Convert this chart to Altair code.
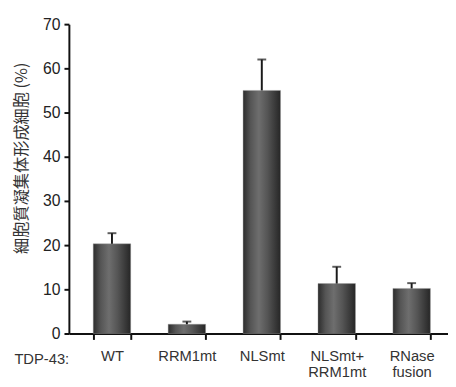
import altair as alt
import pandas as pd

categories = ["WT", "RRM1mt", "NLSmt", "NLSmt+\nRRM1mt", "RNase\nfusion"]
values = [20.3, 2.1, 55.0, 11.3, 10.2]
errors = [2.4, 0.6, 7.0, 3.8, 1.2]
y_ticks = [0, 10, 20, 30, 40, 50, 60, 70]

df = pd.DataFrame({"cat": categories, "val": values, "err": errors})
df["upper"] = df["val"] + df["err"]

x_enc = alt.X(
    "cat:N",
    sort=categories,
    scale=alt.Scale(paddingInner=0.5, paddingOuter=0.28, align=0.58),
    axis=alt.Axis(
        title="TDP-43:",
        titleX=-56,
        titleY=31,
        titleAlign="left",
        titleBaseline="alphabetic",
        titleFont="Liberation Sans",
        titleFontSize=15,
        titleFontWeight="normal",
        titleColor="#333333",
        labelAngle=0,
        labelFont="Liberation Sans",
        labelFontSize=15,
        labelColor="#333333",
        labelExpr="split(datum.label, '\\n')",
        labelLineHeight=17,
        labelPadding=9,
        labelBaseline="top",
        tickBand="extent",
        tickSize=6,
        tickWidth=2,
        tickColor="#111111",
        domainColor="#111111",
        domainWidth=2,
    ),
)

y_scale = alt.Scale(domain=[0, 70], nice=False)

bars = alt.Chart().mark_bar(
    color=alt.Gradient(
        gradient="linear",
        x1=0, x2=1, y1=0, y2=0,
        stops=[
            alt.GradientStop(color="#2c2c2c", offset=0),
            alt.GradientStop(color="#555555", offset=0.2),
            alt.GradientStop(color="#6e6e6e", offset=0.42),
            alt.GradientStop(color="#555555", offset=0.65),
            alt.GradientStop(color="#262626", offset=1),
        ],
    ),
    stroke="#9a9a9a",
    strokeWidth=0.4,
).encode(
    x=x_enc,
    y=alt.Y(
        "val:Q",
        scale=y_scale,
        axis=alt.Axis(
            title="細胞質凝集体形成細胞 (%)",
            titleFont="Noto Sans CJK JP",
            titleFontSize=16.5,
            titleFontWeight="normal",
            titleColor="#333333",
            titleX=-48,
            titleY=136,
            titleAlign="center",
            titleBaseline="middle",
            values=y_ticks,
            labelFont="Liberation Sans",
            labelFontSize=16,
            labelColor="#222222",
            labelPadding=4,
            tickSize=5,
            tickWidth=2,
            tickColor="#111111",
            domainColor="#111111",
            domainWidth=2,
            grid=False,
        ),
    ),
)

rules = alt.Chart().mark_rule(color="#1a1a1a", strokeWidth=2).encode(
    x=alt.X("cat:N", sort=categories),
    y=alt.Y("val:Q", scale=y_scale),
    y2="upper:Q",
)

caps = alt.Chart().mark_tick(color="#1a1a1a", thickness=2, size=9).encode(
    x=alt.X("cat:N", sort=categories),
    y=alt.Y("upper:Q", scale=y_scale),
)

chart = alt.layer(bars, rules, caps, data=df).properties(
    width=386,
    height=315,
    padding={"left": 62, "top": 13, "right": 0, "bottom": 50},
    autosize=alt.AutoSizeParams(type="none"),
).configure_view(stroke=None)

chart.save("out.html", embed_options={"renderer": "svg", "actions": False})
